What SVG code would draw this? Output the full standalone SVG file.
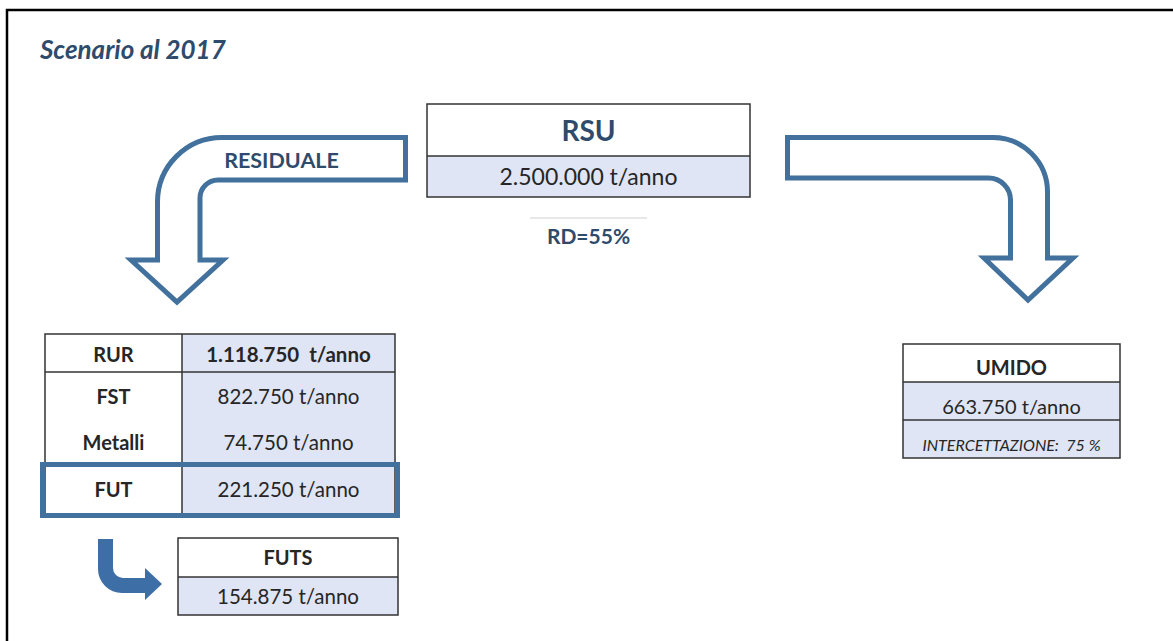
<svg xmlns="http://www.w3.org/2000/svg" width="1173" height="641" viewBox="0 0 1173 641">
<defs>
<style>
.t{font-family:Lato,"Liberation Sans",sans-serif;fill:#262626;text-anchor:middle;}
.b{font-weight:bold;}
.blue{fill:#2f4b6c;}
.cell{stroke:#333;stroke-width:1.5;}
.w{fill:#ffffff;}
.lb{fill:#dfe5f4;}
.lab{font-size:20px;font-weight:bold;}
.val{font-size:20.5px;}
.big{fill:#ffffff;stroke:#41719c;stroke-width:5;stroke-linejoin:miter;}
</style>
</defs>
<rect width="1173" height="641" fill="#ffffff"/>
<path d="M7,641 V10 H1173" fill="none" stroke="#000" stroke-width="2.5"/>
<text x="40" y="59" class="t blue b" style="text-anchor:start;font-style:italic;font-size:26px">Scenario al 2017</text>

<g id="connectors">
<g id="arrow-residuale">
<path class="big" d="M405.5,137.5 H222 A64.5,64.5 0 0 0 157.5,202 V260 H131 L177,302 L223,260 H200 V198 A18,18 0 0 1 218,180 H405.5 Z"/>
<text x="281.5" y="168" class="t blue b" style="font-size:21.5px">RESIDUALE</text>
</g>
<g id="arrow-umido">
<path class="big" d="M787.5,137.5 H993 A54.5,54.5 0 0 1 1047.5,192 V258 H1073 L1028,300 L984,258 H1010.5 V200 A22,22 0 0 0 988.5,178 H787.5 Z"/>
</g>
<g id="arrow-futs">
<path d="M98,539 H113 V568 A10,10 0 0 0 123,578 H145 V568 L162,584 L145,600 V593 H122 A24,24 0 0 1 98,569 Z" fill="#3d6ea6"/>
</g>
</g>

<g id="node-rsu">
<rect x="427" y="104" width="323" height="52" class="w"/>
<rect x="427" y="156" width="323" height="41" class="lb"/>
<rect x="427" y="104" width="323" height="93" fill="none" class="cell"/>
<line x1="427" y1="156" x2="750" y2="156" class="cell"/>
<text x="588.5" y="141" class="t blue b" style="font-size:28px">RSU</text>
<text x="588.5" y="185" class="t" style="font-size:23px">2.500.000 t/anno</text>
</g>

<g id="node-rd">
<line x1="530" y1="218" x2="647" y2="218" stroke="#d0d0d0" stroke-width="1"/>
<text x="588.5" y="244" class="t blue b" style="font-size:21px">RD=55%</text>
</g>

<g id="node-rur">
<rect x="45" y="334" width="137" height="181" class="w"/>
<rect x="182" y="334" width="213" height="181" class="lb"/>
<rect x="45" y="334" width="350" height="181" fill="none" class="cell"/>
<line x1="182" y1="334" x2="182" y2="515" class="cell"/>
<line x1="45" y1="372" x2="395" y2="372" class="cell"/>
<text x="113.5" y="362" class="t lab">RUR</text>
<text x="288.5" y="362" class="t b" style="font-size:20.5px;white-space:pre">1.118.750  t/anno</text>
<text x="113.5" y="404" class="t lab">FST</text>
<text x="288.5" y="404" class="t val">822.750 t/anno</text>
<text x="113.5" y="450" class="t lab">Metalli</text>
<text x="288.5" y="450" class="t val">74.750 t/anno</text>
<text x="113.5" y="497" class="t lab">FUT</text>
<text x="288.5" y="497" class="t val">221.250 t/anno</text>
<rect x="42.5" y="464.5" width="355" height="51" fill="none" stroke="#41719c" stroke-width="5"/>
</g>

<g id="node-futs">
<rect x="178" y="538" width="220" height="39" class="w"/>
<rect x="178" y="577" width="220" height="38" class="lb"/>
<rect x="178" y="538" width="220" height="77" fill="none" class="cell"/>
<line x1="178" y1="577" x2="398" y2="577" class="cell"/>
<text x="288" y="565" class="t lab">FUTS</text>
<text x="288" y="604" class="t val">154.875 t/anno</text>
</g>

<g id="node-umido">
<rect x="903" y="344" width="217" height="38" class="w"/>
<rect x="903" y="382" width="217" height="76" class="lb"/>
<rect x="903" y="344" width="217" height="114" fill="none" class="cell"/>
<line x1="903" y1="382" x2="1120" y2="382" class="cell"/>
<line x1="903" y1="420" x2="1120" y2="420" class="cell"/>
<text x="1011.5" y="375" class="t lab">UMIDO</text>
<text x="1011.5" y="414" class="t" style="font-size:20px">663.750 t/anno</text>
<text x="1011.5" y="451" class="t" style="font-size:16px;font-style:italic;white-space:pre">INTERCETTAZIONE:  75 %</text>
</g>
</svg>
